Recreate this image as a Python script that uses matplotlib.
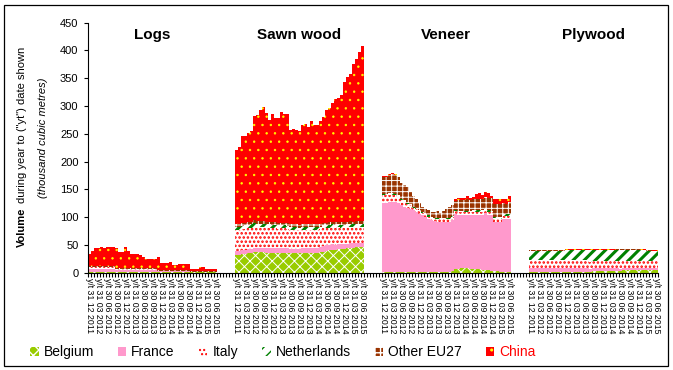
import numpy as np
import matplotlib
matplotlib.use("Agg")
import matplotlib.pyplot as plt
from matplotlib.patches import Rectangle

plt.rcParams['font.family'] = ['Liberation Sans', 'DejaVu Sans']

# Dados (mil m3, acumulado no ano)
groups = ["Logs", "Sawn wood", "Veneer", "Plywood"]
countries = ["Belgium", "France", "Italy", "Netherlands", "Other EU27", "China"]
dates = ["31 12 2011", "31 03 2012", "30 06 2012", "30 09 2012", "31 12 2012",
         "31 03 2013", "30 06 2013", "30 09 2013", "31 12 2013", "31 03 2014",
         "30 06 2014", "30 09 2014", "31 12 2014", "31 03 2015", "30 06 2015"]

# Logs
logs_total = [33, 39, 44, 44, 46, 44, 46, 47, 47, 44, 38, 38, 46, 39, 33, 33, 33, 31, 29, 25, 25, 25,
              25, 28, 17, 17, 17, 19, 14, 14, 16, 16, 16, 16, 7, 6, 6, 10, 10, 7, 7, 7, 7]
logs_belgium = [1.5] * 9 + [1] * 14 + [1] * 11 + [0.5] * 9
logs_france = [6] * 9 + [4] * 14 + [2] * 11 + [1] * 9
logs_italy = [2] * 9 + [1] * 14 + [0.5] * 11 + [0.3] * 9
logs_nl = [0.5] * 9 + [0.5] * 14 + [0.3] * 11 + [0.2] * 9
logs_other = [1.5] * 9 + [1.5] * 14 + [0.5] * 11 + [0.3] * 9

# Sawn wood
sawn_total = [221, 227, 246, 246, 251, 255, 282, 284, 292, 298, 288, 275, 286, 278, 278, 289, 286,
              286, 256, 259, 256, 255, 266, 267, 262, 273, 266, 265, 273, 281, 293, 296, 305, 312,
              314, 319, 343, 352, 358, 376, 385, 397, 408]
sawn_belgium = [32, 32, 33, 34, 35, 36, 37, 37, 37, 37, 36, 36, 35, 35, 35, 36, 36, 36, 35, 35, 35,
                35, 36, 36, 36, 36, 36, 36, 37, 38, 39, 40, 41, 41, 42, 42, 43, 44, 45, 45, 46, 46, 46]
sawn_france = [7, 7, 7, 7, 7, 7, 8, 8, 8, 8, 9, 9, 9, 9, 9, 9, 9, 9, 8, 8, 8, 8, 8, 8, 8, 8, 8, 8,
               9, 10, 10, 10, 10, 9, 9, 9, 8, 8, 8, 8, 8, 8, 8]
sawn_italy = [38, 38, 38, 38, 38, 38, 38, 37, 37, 37, 36, 36, 36, 36, 35, 35, 35, 34, 34, 34, 34, 33,
              33, 33, 33, 33, 33, 33, 32, 32, 31, 31, 31, 31, 31, 30, 30, 30, 30, 29, 29, 29, 29]
sawn_nl = [6] * 15 + [5] * 15 + [5] * 13
sawn_other = [5] * 43

# Veneer
veneer_total = [174, 174, 178, 179, 178, 173, 162, 158, 154, 145, 138, 132, 125, 119, 115, 113, 109,
                109, 111, 107, 111, 114, 118, 121, 132, 134, 134, 134, 138, 134, 137, 142, 143, 140,
                145, 143, 138, 132, 132, 132, 133, 132, 138]
veneer_belgium = [2] * 23 + [3, 6, 7, 8, 8, 8, 7, 6, 6, 6, 5, 4, 4, 3, 3, 3, 2, 2, 2, 2]
veneer_france = [123, 123, 125, 125, 125, 123, 119, 117, 115, 113, 110, 107, 104, 101, 98, 95, 93,
                 91, 90, 90, 90, 90, 90, 92, 100, 97, 96, 96, 96, 97, 98, 98, 98, 99, 103, 100, 101,
                 89, 89, 89, 94, 94, 94]
veneer_italy = [14, 14, 13, 13, 12, 11, 9, 8, 7, 6, 5, 5, 5, 4, 4, 4, 4, 4, 4, 4, 4, 4, 5, 5, 5, 5,
                5, 5, 5, 5, 6, 6, 6, 6, 6, 6, 5, 6, 6, 6, 6, 6, 6]
veneer_nl = [3] * 8 + [2] * 29 + [3] * 6
veneer_china = [1, 1, 2, 2, 2, 1] + [0] * 18 + [3, 3, 3, 3, 6, 3, 5, 10, 10, 8, 8, 8, 3, 8, 8, 8,
                                                8, 8, 10]

# Plywood
ply_total = [41] * 12 + [42] * 17 + [43] * 8 + [42, 42, 41, 41, 40, 40]
ply_belgium = [1] * 8 + [2] * 13 + [3] * 10 + [4] * 12
ply_france = [7] * 10 + [6] * 10 + [5] * 10 + [4] * 13
ply_italy = [14] * 20 + [13] * 23
ply_other = [1] * 43
ply_china = [0.5] * 43


def remainder(total, parts):
    return list(np.array(total) - np.sum(np.array(parts), axis=0))


series = {
    "Logs": [logs_belgium, logs_france, logs_italy, logs_nl, logs_other,
             remainder(logs_total, [logs_belgium, logs_france, logs_italy, logs_nl, logs_other])],
    "Sawn wood": [sawn_belgium, sawn_france, sawn_italy, sawn_nl, sawn_other,
                  remainder(sawn_total, [sawn_belgium, sawn_france, sawn_italy, sawn_nl, sawn_other])],
    "Veneer": [veneer_belgium, veneer_france, veneer_italy, veneer_nl,
               remainder(veneer_total, [veneer_belgium, veneer_france, veneer_italy, veneer_nl, veneer_china]),
               veneer_china],
    "Plywood": [ply_belgium, ply_france, ply_italy,
                remainder(ply_total, [ply_belgium, ply_france, ply_italy, ply_other, ply_china]),
                ply_other, ply_china],
}

# Estilos (face, hatch, cor do hatch, espessura do hatch)
styles = [
    ("#99cc00", "xxx", "white", 0.7),
    ("#ff99cc", None, "#ff99cc", 1.0),
    ("white", "....", "#ff0000", 1.2),
    ("white", "///", "#008000", 2.2),
    ("#993300", "+++", "white", 0.7),
    ("#ff0000", "..", "#ffff00", 0.5),
]

N = 43
STEP = 49

fig = plt.figure(figsize=(6.73, 3.70), dpi=100)
ax = fig.add_axes([87.5 / 673, 1 - 272.7 / 370, 570.5 / 673, 250 / 370])

for g, name in enumerate(groups):
    x = g * STEP + np.arange(N)
    bottom = np.zeros(N)
    for k, vals in enumerate(series[name]):
        vals = np.clip(np.array(vals, dtype=float), 0, None)
        face, hatch, hc, hlw = styles[k]
        with plt.rc_context({'hatch.linewidth': hlw}):
            ax.bar(x, vals, width=1.0, bottom=bottom, color=face, edgecolor=hc, hatch=hatch,
                   linewidth=0, antialiased=False, label=countries[k] if g == 0 else None)
        bottom += vals
    ax.text(g * STEP + 21, 427, name, ha="center", va="center", fontsize=11, fontweight="bold")

ax.set_xlim(-0.5, 4 * STEP - 6 - 0.5)
ax.set_ylim(0, 450)
ax.set_yticks(np.arange(0, 451, 50))
ax.tick_params(axis="y", labelsize=8, length=3, width=0.8, direction="out")

pos, labs = [], []
for g in range(4):
    for i, d in enumerate(dates):
        pos.append(g * STEP + 3 * i)
        labs.append("y/t " + d)
ax.set_xticks(pos)
ax.set_xticklabels(labs, rotation=-90, fontsize=6.3, va="top", ha="center")
ax.set_xticks(np.arange(-0.5, 4 * STEP - 6, 1), minor=True)
ax.tick_params(axis="x", which="major", length=0, pad=4)
ax.tick_params(axis="x", which="minor", length=3, width=0.8, direction="out")

for s in ["top", "right"]:
    ax.spines[s].set_visible(False)
ax.spines["left"].set_linewidth(0.8)
ax.spines["bottom"].set_linewidth(0.8)

# Rotulo do eixo y
fig.text(22 / 673, 1 - 247 / 370, "Volume", rotation=90, ha="center", va="bottom",
         fontsize=8, fontweight="bold")
fig.text(22 / 673, 1 - 203 / 370, 'during year to ("yt") date shown', rotation=90,
         ha="center", va="bottom", fontsize=8)
fig.text(43 / 673, 1 - 138 / 370, "(thousand cubic metres)", rotation=90, ha="center",
         va="center", fontsize=8, style="italic")

with plt.rc_context({'hatch.linewidth': 1.0}):
    leg = fig.legend(loc="center", bbox_to_anchor=(283 / 673, 1 - 352 / 370), ncol=6,
                     frameon=False, fontsize=10, handlelength=0.6, handleheight=0.6,
                     handletextpad=0.35, columnspacing=1.75)
for t in leg.get_texts():
    if t.get_text() == "China":
        t.set_color("#ff0000")

fig.patches.append(Rectangle((4 / 673, 1 - 366 / 370), 664 / 673, 361 / 370, fill=False,
                             edgecolor="black", linewidth=0.9, transform=fig.transFigure))

fig.savefig("out.png", dpi=100)
